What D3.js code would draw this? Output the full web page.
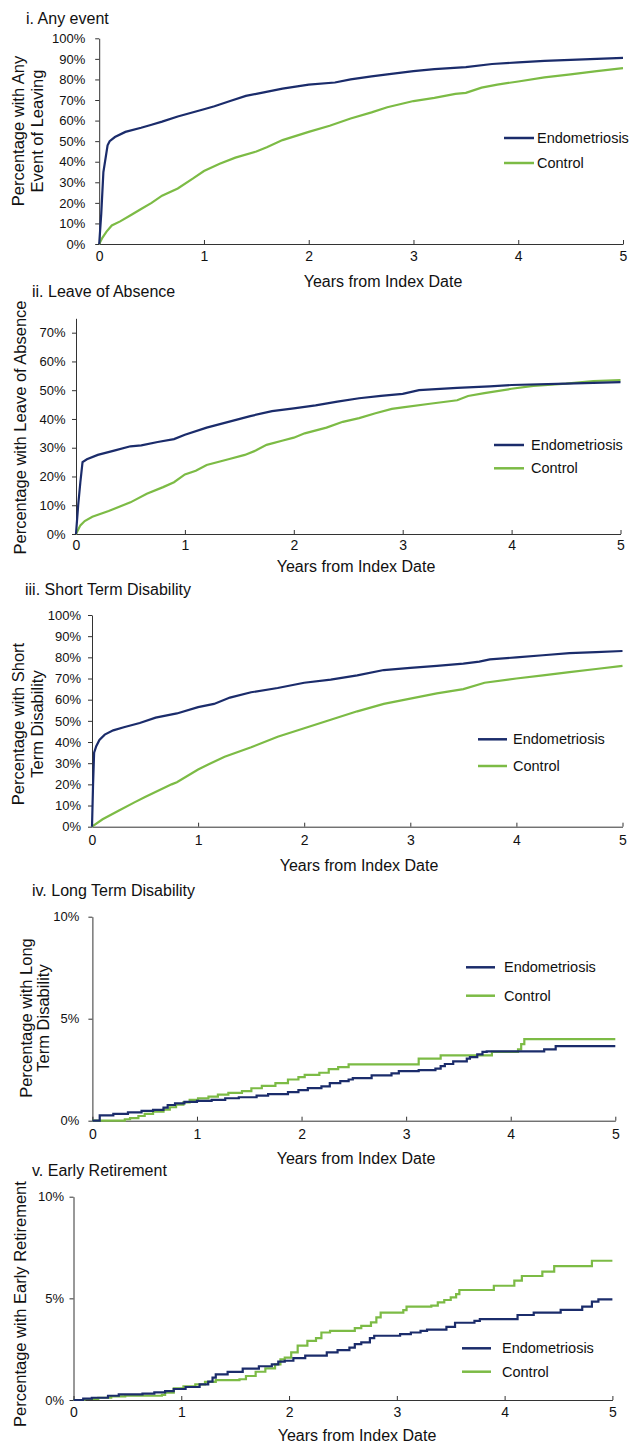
<!DOCTYPE html>
<html>
<head>
<meta charset="utf-8">
<script src="https://cdn.jsdelivr.net/npm/d3@7"></script>
<style>
  body { margin: 0; background: #fff; }
  svg { display: block; }
  text { font-family: "Liberation Sans", Arial, Helvetica, sans-serif; fill: #111; }
  .axis path, .axis line { stroke: #333; stroke-width: 1; }
  .axis text { font-size: 13px; fill: #111; }
</style>
</head>
<body>
<div id="chart"></div>
<script>
// series names
var seriesNames = ["Endometriosis", "Control"];
var xTicks = [0, 1, 2, 3, 4, 5];

// i. Any event  [years, percent]
var anyEndo = [[0,0],[0.02,15],[0.04,35],[0.08,48],[0.1,50],[0.15,52],[0.25,54.5],[0.4,56.5],[0.5,58],[0.6,59.5],[0.75,62],[1,65.5],[1.1,67],[1.25,69.5],[1.4,72],[1.5,73],[1.75,75.5],[2,77.5],[2.25,78.5],[2.4,80],[2.6,81.5],[2.75,82.5],[3,84],[3.2,85],[3.5,86],[3.75,87.5],[4,88.3],[4.25,89],[4.5,89.5],[4.75,90],[5,90.5]];
var anyCtrl = [[0,0],[0.03,3],[0.07,6],[0.12,9],[0.2,11],[0.3,14],[0.4,17],[0.5,20],[0.6,23.5],[0.75,27],[0.9,32],[1,35.5],[1.15,39],[1.3,42],[1.5,45],[1.6,47],[1.75,50.5],[2,54.5],[2.2,57.5],[2.4,61],[2.6,64],[2.75,66.5],[3,69.5],[3.2,71],[3.4,73],[3.5,73.5],[3.65,76],[3.8,77.5],[4,79],[4.25,81],[4.5,82.5],[4.75,84],[5,85.5]];

// ii. Leave of Absence
var loaEndo = [[0,0],[0.02,10],[0.04,18],[0.06,25],[0.1,26],[0.2,27.5],[0.35,29],[0.5,30.5],[0.6,30.8],[0.75,32],[0.9,33],[1,34.5],[1.2,37],[1.4,39],[1.6,41],[1.8,42.7],[2,43.7],[2.2,44.7],[2.4,46],[2.6,47.2],[2.8,48],[3,48.7],[3.15,50],[3.5,50.8],[3.8,51.3],[4,51.8],[4.5,52.3],[5,52.8]];
var loaCtrl = [[0,0],[0.04,3],[0.08,4.5],[0.15,6],[0.3,8],[0.5,11],[0.65,14],[0.8,16.3],[0.9,18],[1,20.7],[1.1,22],[1.2,24],[1.4,26],[1.55,27.5],[1.65,29],[1.75,31],[1.9,32.5],[2,33.5],[2.1,35],[2.3,37],[2.45,39],[2.6,40.3],[2.75,42],[2.9,43.5],[3,44],[3.25,45.3],[3.5,46.5],[3.6,48],[3.75,49],[4,50.5],[4.2,51.5],[4.5,52.3],[4.75,53.2],[5,53.5]];

// iii. Short Term Disability
var stdEndo = [[0,0],[0.01,20],[0.02,35],[0.04,38],[0.07,41],[0.12,43.5],[0.2,45.5],[0.3,47],[0.45,49],[0.6,51.5],[0.8,53.5],[1,56.5],[1.15,58],[1.3,61],[1.5,63.5],[1.75,65.5],[2,68],[2.25,69.5],[2.5,71.5],[2.75,74],[3,75],[3.25,76],[3.5,77],[3.65,78],[3.75,79],[4,80],[4.25,81],[4.5,82],[4.75,82.5],[5,83]];
var stdCtrl = [[0,0],[0.1,3.5],[0.25,7.5],[0.4,11.5],[0.5,14],[0.75,20],[0.8,21],[1,27],[1.1,29.5],[1.25,33],[1.5,37.5],[1.75,42.5],[2,46.5],[2.25,50.5],[2.5,54.5],[2.75,58],[3,60.5],[3.25,63],[3.5,65],[3.7,68],[4,70],[4.25,71.5],[4.5,73],[4.75,74.5],[5,76]];

// iv. Long Term Disability (steps)
var ltdEndo = [[0,0],[0.07,0.26],[0.2,0.33],[0.34,0.41],[0.47,0.48],[0.58,0.53],[0.68,0.64],[0.72,0.77],[0.79,0.85],[0.88,0.92],[1,0.97],[1.14,1.02],[1.27,1.1],[1.4,1.15],[1.57,1.23],[1.68,1.3],[1.87,1.4],[1.97,1.5],[2.06,1.6],[2.19,1.68],[2.27,1.84],[2.37,1.94],[2.45,2.02],[2.49,2.09],[2.67,2.22],[2.86,2.32],[2.93,2.43],[3.12,2.48],[3.28,2.55],[3.33,2.68],[3.37,2.78],[3.45,2.91],[3.58,3.04],[3.61,3.12],[3.68,3.25],[3.73,3.37],[3.77,3.4],[4.32,3.5],[4.43,3.66],[5,3.66]];
var ltdCtrl = [[0,0],[0.31,0.07],[0.36,0.13],[0.44,0.23],[0.5,0.33],[0.58,0.44],[0.68,0.54],[0.74,0.66],[0.8,0.79],[0.87,0.9],[0.93,1.02],[1.01,1.09],[1.11,1.18],[1.2,1.28],[1.3,1.36],[1.43,1.45],[1.52,1.59],[1.62,1.71],[1.75,1.84],[1.87,2.02],[1.97,2.14],[2.03,2.25],[2.17,2.35],[2.26,2.53],[2.35,2.63],[2.45,2.76],[3.12,3.04],[3.33,3.2],[3.82,3.37],[4.07,3.5],[4.1,3.75],[4.13,4],[5,4]];

// v. Early Retirement (steps)
var erEndo = [[0,0],[0.09,0.07],[0.17,0.11],[0.32,0.21],[0.42,0.28],[0.64,0.31],[0.75,0.38],[0.85,0.44],[0.93,0.54],[1.04,0.64],[1.17,0.77],[1.25,0.9],[1.29,1.1],[1.32,1.26],[1.43,1.38],[1.57,1.54],[1.72,1.66],[1.84,1.75],[1.9,1.89],[1.96,1.93],[2.04,2.06],[2.15,2.18],[2.35,2.34],[2.45,2.45],[2.56,2.58],[2.61,2.75],[2.67,2.83],[2.75,3.04],[2.79,3.16],[3.03,3.24],[3.13,3.32],[3.22,3.4],[3.28,3.46],[3.46,3.6],[3.54,3.8],[3.72,3.89],[3.77,3.98],[4.12,4.18],[4.27,4.3],[4.52,4.43],[4.72,4.59],[4.81,4.84],[4.87,4.95],[5,4.95]];
var erCtrl = [[0,0],[0.1,0.05],[0.23,0.11],[0.35,0.18],[0.48,0.21],[0.82,0.25],[0.85,0.36],[0.93,0.57],[1.02,0.67],[1.13,0.77],[1.22,0.89],[1.32,0.98],[1.54,1.02],[1.6,1.18],[1.69,1.39],[1.78,1.56],[1.87,1.75],[1.92,2],[1.96,2.08],[2.02,2.34],[2.08,2.67],[2.17,2.91],[2.25,3.04],[2.3,3.32],[2.38,3.4],[2.61,3.54],[2.67,3.65],[2.76,3.82],[2.81,4.06],[2.85,4.3],[3.06,4.42],[3.09,4.59],[3.32,4.64],[3.38,4.8],[3.44,4.92],[3.5,5.05],[3.55,5.21],[3.58,5.41],[3.9,5.62],[4.09,5.87],[4.16,6.1],[4.35,6.31],[4.46,6.59],[4.81,6.85],[5,6.85]];

var yTicksTen = [0,10,20,30,40,50,60,70,80,90,100];
var yTicksLoa = [0,10,20,30,40,50,60,70];
var yTicksSmall = [0,5,10];

var COLORS = { endo: "#1b2c6b", ctrl: "#7cbb45" };

var panels = [
  { title: "i. Any event", yTitle: ["Percentage with Any", "Event of Leaving"], yMax: 100, yTicks: yTicksTen,
    endo: anyEndo, ctrl: anyCtrl, step: false,
    x0: 99.2, x1: 623, yTop: 38.3, yBot: 244, tickPad: 10, xPad: 7.5,
    tx: 26, ty: 18, yt: [18, 37], ytc: 131, xt: [383, 281], lg: [504, 534, 138, 163, 537] },
  { title: "ii. Leave of Absence", yTitle: ["Percentage with Leave of Absence"], yMax: 75, yTicks: yTicksLoa,
    endo: loaEndo, ctrl: loaCtrl, step: false,
    x0: 76, x1: 620.5, yTop: 318.3, yBot: 534, tickPad: 6.5, xPad: 6.5,
    tx: 32, ty: 291.7, yt: [20], ytc: 427.5, xt: [356, 566], lg: [494, 524, 445, 468.3, 531] },
  { title: "iii. Short Term Disability", yTitle: ["Percentage with Short", "Term Disability"], yMax: 100, yTicks: yTicksTen,
    endo: stdEndo, ctrl: stdCtrl, step: false,
    x0: 92, x1: 622.5, yTop: 615, yBot: 826.7, tickPad: 7, xPad: 8,
    tx: 25, ty: 589, yt: [18, 37.3], ytc: 724, xt: [359, 865], lg: [478, 507, 739.3, 766, 513] },
  { title: "iv. Long Term Disability", yTitle: ["Percentage with Long", "Term Disability"], yMax: 10, yTicks: yTicksSmall,
    endo: ltdEndo, ctrl: ltdCtrl, step: true,
    x0: 92.4, x1: 615.3, yTop: 916.7, yBot: 1120.7, tickPad: 9, xPad: 8,
    tx: 32, ty: 890.7, yt: [26, 43.4], ytc: 1018, xt: [356, 1158.3], lg: [466, 495, 967.3, 995.7, 504] },
  { title: "v. Early Retirement", yTitle: ["Percentage with Early Retirement"], yMax: 10, yTicks: yTicksSmall,
    endo: erEndo, ctrl: erCtrl, step: true,
    x0: 73.5, x1: 612.4, yTop: 1196.7, yBot: 1400, tickPad: 5.5, xPad: 7,
    tx: 32, ty: 1170, yt: [20], ytc: 1304, xt: [357, 1435.7], lg: [462, 491, 1348.3, 1371.7, 502] }
];

var svg = d3.select("#chart").append("svg")
  .attr("width", 630)
  .attr("height", 1443);

panels.forEach(function(p) {
  var xScale = d3.scaleLinear().domain([0, 5]).range([p.x0, p.x1]);
  var yScale = d3.scaleLinear().domain([0, p.yMax]).range([p.yBot, p.yTop]);

  // axes
  svg.append("g")
    .attr("class", "axis")
    .attr("transform", "translate(0," + p.yBot + ")")
    .call(d3.axisBottom(xScale).tickValues(xTicks).tickSizeInner(-4).tickSizeOuter(0)
      .tickPadding(p.xPad).tickFormat(d3.format("d")))
    .selectAll("text").style("font-size", "14px");

  svg.append("g")
    .attr("class", "axis")
    .attr("transform", "translate(" + p.x0 + ",0)")
    .call(d3.axisLeft(yScale).tickValues(p.yTicks).tickSize(4).tickSizeOuter(0)
      .tickPadding(p.tickPad).tickFormat(d => d + "%"));

  // lines
  var line = d3.line()
    .x(d => xScale(d[0]))
    .y(d => yScale(d[1]))
    .curve(p.step ? d3.curveStepAfter : d3.curveLinear);

  svg.append("path").datum(p.ctrl)
    .attr("fill", "none").attr("stroke", COLORS.ctrl).attr("stroke-width", 2.2)
    .attr("d", line);
  svg.append("path").datum(p.endo)
    .attr("fill", "none").attr("stroke", COLORS.endo).attr("stroke-width", 2.2)
    .attr("d", line);

  // titles
  svg.append("text").attr("x", p.tx).attr("y", p.ty).attr("dy", "0.35em")
    .style("font-size", "16px").text(p.title);

  p.yTitle.forEach(function(t, i) {
    svg.append("text")
      .attr("transform", "translate(" + p.yt[i] + "," + p.ytc + ") rotate(-90)")
      .attr("text-anchor", "middle").attr("dy", "0.35em")
      .style("font-size", "16.5px").text(t);
  });

  svg.append("text").attr("x", p.xt[0]).attr("y", p.xt[1]).attr("dy", "0.35em")
    .attr("text-anchor", "middle").style("font-size", "16px").text("Years from Index Date");

  // legend
  [COLORS.endo, COLORS.ctrl].forEach(function(c, i) {
    var ly = p.lg[2 + i];
    svg.append("line").attr("x1", p.lg[0]).attr("x2", p.lg[1]).attr("y1", ly).attr("y2", ly)
      .attr("stroke", c).attr("stroke-width", 2.5);
    svg.append("text").attr("x", p.lg[4]).attr("y", ly).attr("dy", "0.35em")
      .style("font-size", "14.5px").text(seriesNames[i]);
  });
});
</script>
</body>
</html>
